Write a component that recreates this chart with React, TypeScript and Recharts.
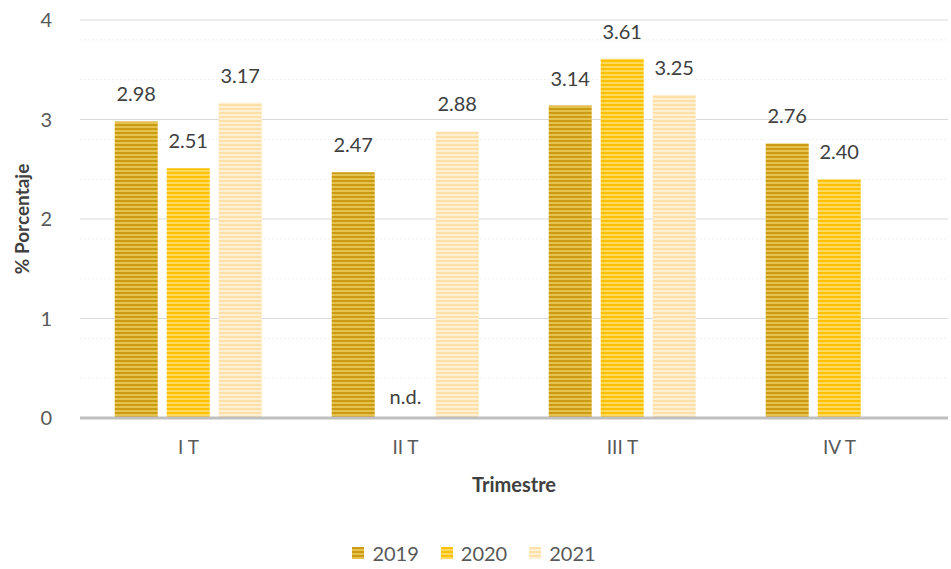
import React from 'react';
import { BarChart, Bar, XAxis, YAxis, CartesianGrid, Legend, LabelList, ReferenceDot } from 'recharts';

const trimestres = ['I T', 'II T', 'III T', 'IV T'];
const serie2019: (number | null)[] = [2.98, 2.47, 3.14, 2.76];
const serie2020: (number | null)[] = [2.51, null, 3.61, 2.4];
const serie2021: (number | null)[] = [3.17, 2.88, 3.25, null];
const yTicks = [0, 1, 2, 3, 4];
const minorTicks = [0.2, 0.4, 0.6, 0.8, 1.2, 1.4, 1.6, 1.8, 2.2, 2.4, 2.6, 2.8, 3.2, 3.4, 3.6, 3.8];

const FONT = 'Lato, "Liberation Sans", sans-serif';
const TEXT = '#595959';

const SERIES = [
  { key: 'y2019', name: '2019', base: '#CC9B14', light: '#E5C14E' },
  { key: 'y2020', name: '2020', base: '#FFC000', light: '#FFDA5E' },
  { key: 'y2021', name: '2021', base: '#FFE0A8', light: '#FFF0D4' },
];

const data = trimestres.map((t, i) => ({
  name: t,
  y2019: serie2019[i],
  y2020: serie2020[i],
  y2021: serie2021[i],
}));

// 2020 is the middle bar, so its "n.d." sits on the category centre
const sinDato2020 = trimestres.filter((_, i) => serie2020[i] === null);

const renderValue = (props: any) => {
  const { x, y, width, value } = props;
  if (value === null || value === undefined) return null;
  return (
    <text x={Number(x) + Number(width) / 2} y={Number(y) - 20} textAnchor="middle" fill="#404040" fontSize={20} fontFamily={FONT}>
      {Number(value).toFixed(2)}
    </text>
  );
};

const CustomLegend = () => (
  <div style={{ display: 'flex', justifyContent: 'center', gap: 22, marginTop: 18, fontFamily: FONT, fontSize: 20, color: TEXT }}>
    {SERIES.map((s) => (
      <div key={s.key} style={{ display: 'flex', alignItems: 'center', gap: 8 }}>
        <svg width={12} height={12}>
          <rect width={12} height={12} fill={`url(#stripe-${s.key})`} />
        </svg>
        <span>{s.name}</span>
      </div>
    ))}
  </div>
);

const App: React.FC = () => {
  return (
    <div style={{ position: 'absolute', left: 0, top: 0, background: '#fff' }}>
      <BarChart
        width={951}
        height={569}
        data={data}
        margin={{ top: 20, right: 3, bottom: 6, left: 0 }}
        barCategoryGap="16%"
        barGap={9}
      >
        <defs>
          {SERIES.map((s) => (
            <pattern key={s.key} id={`stripe-${s.key}`} patternUnits="userSpaceOnUse" width={4} height={4}>
              <rect width={4} height={4} fill={s.base} />
              <rect y={2} width={4} height={2} fill={s.light} />
            </pattern>
          ))}
        </defs>
        <CartesianGrid vertical={false} horizontalValues={minorTicks} stroke="#EFEFEF" strokeDasharray="2 2" />
        <CartesianGrid vertical={false} horizontalValues={yTicks} stroke="#D9D9D9" />
        <XAxis
          dataKey="name"
          axisLine={{ stroke: '#BFBFBF', strokeWidth: 3 }}
          tickLine={false}
          tickMargin={17}
          height={105}
          tick={{ fill: TEXT, fontSize: 19, fontFamily: FONT }}
          label={{ value: 'Trimestre', position: 'insideTop', offset: 60, fill: '#404040', fontSize: 20, fontWeight: 'bold', fontFamily: FONT }}
        />
        <YAxis
          domain={[0, 4]}
          ticks={yTicks}
          axisLine={false}
          tickLine={false}
          width={80}
          tickMargin={22}
          tick={{ fill: TEXT, fontSize: 20, fontFamily: FONT }}
          label={{ value: '% Porcentaje', angle: -90, position: 'insideLeft', offset: 22, fill: '#404040', fontSize: 19, fontWeight: 'bold', fontFamily: FONT, style: { textAnchor: 'middle' } }}
        />
        <Legend verticalAlign="bottom" height={40} content={<CustomLegend />} />
        {SERIES.map((s) => (
          <Bar key={s.key} dataKey={s.key} name={s.name} fill={`url(#stripe-${s.key})`} isAnimationActive={false}>
            <LabelList dataKey={s.key} content={renderValue} />
          </Bar>
        ))}
        {sinDato2020.map((t) => (
          <ReferenceDot
            key={t}
            x={t}
            y={0}
            r={0}
            fill="none"
            stroke="none"
            label={{ value: 'n.d.', position: 'top', offset: 14, fill: '#404040', fontSize: 20, fontFamily: FONT }}
          />
        ))}
      </BarChart>
    </div>
  );
};

export default App;
